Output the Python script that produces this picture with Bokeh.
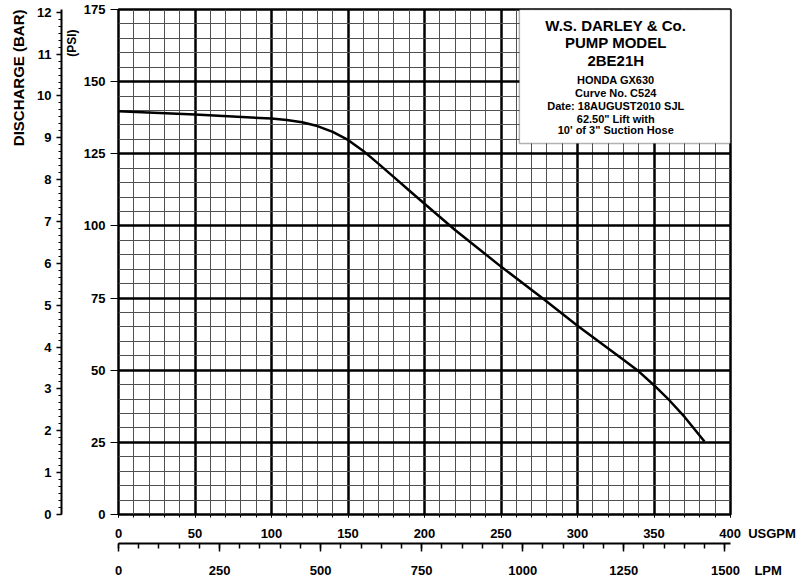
from bokeh.plotting import figure
from bokeh.models import Range1d, LinearAxis, FixedTicker, Label, BoxAnnotation, Title
from bokeh.embed import file_html
from bokeh.resources import INLINE

# ---- data ----
flow_gpm = [0, 50, 100, 110, 120, 130, 140, 150, 160, 170, 180, 190, 200, 220,
            250, 278, 300, 330, 340, 350, 360, 370, 383]
pressure_psi = [139.7, 138.6, 137.2, 136.7, 135.9, 134.6, 132.6, 129.8, 126.0, 121.5,
                116.9, 112.3, 107.7, 98.6, 85.9, 74.6, 65.4,
                53.6, 49.6, 44.8, 39.6, 33.8, 25.3]

gpm_ticks = list(range(0, 401, 50))
gpm_minor = list(range(0, 401, 10))
psi_ticks = list(range(0, 176, 25))
psi_minor = list(range(0, 176, 5))
bar_ticks = list(range(0, 13))
bar_minor = [i / 6 for i in range(0, 73)]
lpm_ticks = list(range(0, 1501, 250))
lpm_minor = list(range(0, 1501, 50))

PSI_PER_BAR = 14.5038
LPM_PER_GPM = 3.78541

info_title = ["W.S. DARLEY & Co.", "PUMP MODEL", "2BE21H"]
info_lines = ["HONDA GX630", "Curve No. C524", "Date: 18AUGUST2010 SJL",
              '62.50" Lift with', "10' of 3\" Suction Hose"]

FONT = "Liberation Sans"
NB = "\u00a0"

p = figure(width=800, height=580, x_range=Range1d(0, 400), y_range=Range1d(0, 175),
           output_backend="svg", toolbar_location=None,
           min_border_left=116, min_border_right=70, min_border_top=9,
           min_border_bottom=66)
p.background_fill_color = "white"
p.border_fill_color = "white"
p.outline_line_color = "black"
p.outline_line_width = 2.5

p.extra_x_ranges = {"lpm": Range1d(0, 400 * LPM_PER_GPM)}
p.extra_y_ranges = {"bar": Range1d(0, 175 / PSI_PER_BAR)}

xt = FixedTicker(ticks=gpm_ticks, minor_ticks=gpm_minor)
yt = FixedTicker(ticks=psi_ticks, minor_ticks=psi_minor)

# GPM axis
xa = p.xaxis[0]
xa.ticker = xt
xa.axis_line_color = None
xa.major_tick_in = 0
xa.major_tick_out = 3
xa.minor_tick_in = 0
xa.minor_tick_out = 3
xa.major_tick_line_color = "black"
xa.minor_tick_line_color = "black"
xa.major_label_standoff = 8
xa.major_label_text_font = FONT
xa.major_label_text_font_style = "bold"
xa.major_label_text_font_size = "13px"
xa.major_label_text_color = "black"
xa.major_label_overrides = {400: NB * 15 + "400" + NB * 2 + "USGPM"}

# PSI axis
ya = p.yaxis[0]
ya.ticker = yt
ya.axis_line_color = None
ya.major_tick_in = 0
ya.major_tick_out = 8
ya.major_tick_line_color = "black"
ya.minor_tick_line_color = None
ya.major_label_standoff = 5
ya.major_label_text_font = FONT
ya.major_label_text_font_style = "bold"
ya.major_label_text_font_size = "13px"
ya.major_label_text_color = "black"

p.xgrid.ticker = xt
p.ygrid.ticker = yt
for g in (p.xgrid[0], p.ygrid[0]):
    g.grid_line_color = "black"
    g.grid_line_width = 2.5
    g.minor_grid_line_color = "#505050"
    g.minor_grid_line_width = 1

# "(PSI)" title between the two vertical axes
psi_title = Title(text="(PSI)", align="right", offset=20, standoff=3,
                  text_font=FONT, text_font_style="bold", text_font_size="12px",
                  text_color="black")
p.add_layout(psi_title, "left")

# BAR axis
bar_axis = LinearAxis(y_range_name="bar",
                      ticker=FixedTicker(ticks=bar_ticks, minor_ticks=bar_minor))
bar_axis.axis_line_color = "black"
bar_axis.axis_line_width = 2
bar_axis.major_tick_in = 0
bar_axis.major_tick_out = 5
bar_axis.minor_tick_in = 0
bar_axis.minor_tick_out = 3
bar_axis.major_tick_line_width = 1.5
bar_axis.major_label_standoff = 5
bar_axis.major_label_text_font = FONT
bar_axis.major_label_text_font_style = "bold"
bar_axis.major_label_text_font_size = "13px"
bar_axis.major_label_text_color = "black"
p.add_layout(bar_axis, "left")

bar_title = Title(text="DISCHARGE (BAR)", align="right", standoff=15,
                  text_font=FONT, text_font_style="bold", text_font_size="15px",
                  text_color="black")
p.add_layout(bar_title, "left")

# LPM axis
lpm_axis = LinearAxis(x_range_name="lpm",
                      ticker=FixedTicker(ticks=lpm_ticks, minor_ticks=lpm_minor))
lpm_axis.axis_line_color = "black"
lpm_axis.axis_line_width = 2
lpm_axis.major_tick_in = 0
lpm_axis.major_tick_out = 8
lpm_axis.minor_tick_in = 0
lpm_axis.minor_tick_out = 5
lpm_axis.major_tick_line_width = 1.5
lpm_axis.minor_tick_line_width = 1.5
lpm_axis.major_label_standoff = 11
lpm_axis.major_label_text_font = FONT
lpm_axis.major_label_text_font_style = "bold"
lpm_axis.major_label_text_font_size = "13px"
lpm_axis.major_label_text_color = "black"
lpm_axis.major_label_overrides = {1500: NB * 12 + "1500" + NB * 4 + "LPM"}
p.add_layout(lpm_axis, "below")

# pump curve
p.line(flow_gpm, pressure_psi, line_color="black", line_width=2.5)

# info box
box = BoxAnnotation(left=262, right=400, top=175, bottom=128.6,
                    fill_color="white", fill_alpha=1.0,
                    line_color="black", line_width=1.5)
p.add_layout(box)

title_y = [169.4, 163.5, 157.3]
line_y = [150.7, 146.2, 141.7, 137.2, 133.1]
for t, yy in zip(info_title, title_y):
    p.add_layout(Label(x=325, y=yy, text=t, text_align="center", text_baseline="middle",
                       text_font=FONT, text_font_style="bold", text_font_size="15px",
                       text_color="black"))
for t, yy in zip(info_lines, line_y):
    p.add_layout(Label(x=325, y=yy, text=t, text_align="center", text_baseline="middle",
                       text_font=FONT, text_font_style="bold", text_font_size="11px",
                       text_color="black"))

open("out.html", "w").write(file_html(p, INLINE))
